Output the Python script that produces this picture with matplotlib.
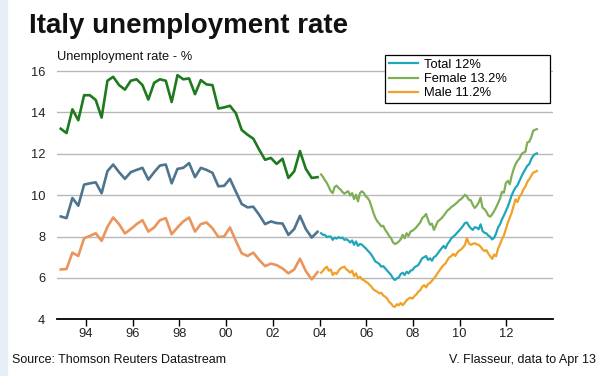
import numpy as np
import pandas as pd
import matplotlib
matplotlib.use("Agg")
from matplotlib import pyplot as plt
import matplotlib.dates as mdates
from matplotlib.patches import Rectangle

plt.rcParams['font.family'] = ['Liberation Sans', 'DejaVu Sans']

# old quarterly series (1993 - 2003)
old_dates = pd.date_range('1992-12-01', '2003-12-01', freq='3MS')
old_female = [13.21, 13.0, 14.15, 13.62, 14.83, 14.83, 14.6, 13.75, 15.53, 15.72,
              15.32, 15.1, 15.53, 15.6, 15.32, 14.62, 15.43, 15.6, 15.53, 14.5,
              15.8, 15.6, 15.64, 14.88, 15.56, 15.35, 15.32, 14.19, 14.24, 14.32,
              13.96, 13.15, 12.92, 12.73, 12.2, 11.71, 11.8, 11.51, 11.76, 10.83,
              11.15, 12.13, 11.27, 10.83, 10.87]
old_total = [8.97, 8.89, 9.86, 9.49, 10.51, 10.57, 10.62, 10.09, 11.16, 11.48,
             11.11, 10.79, 11.11, 11.22, 11.32, 10.75, 11.11, 11.43, 11.48, 10.57,
             11.27, 11.32, 11.55, 10.87, 11.32, 11.22, 11.08, 10.43, 10.45, 10.79,
             10.17, 9.57, 9.41, 9.44, 9.05, 8.6, 8.73, 8.65, 8.63, 8.08,
             8.36, 9.0, 8.36, 7.95, 8.23]
old_male = [6.41, 6.43, 7.22, 7.06, 7.92, 8.03, 8.16, 7.79, 8.47, 8.92,
            8.6, 8.15, 8.36, 8.6, 8.79, 8.24, 8.44, 8.79, 8.89, 8.11,
            8.44, 8.73, 8.92, 8.24, 8.6, 8.68, 8.4, 7.98, 8.0, 8.44,
            7.79, 7.19, 7.06, 7.22, 6.87, 6.57, 6.69, 6.62, 6.46, 6.22,
            6.41, 6.93, 6.33, 5.93, 6.28]

# new monthly series (Jan 2004 - Apr 2013)
new_dates = pd.date_range('2004-01-01', '2013-04-01', freq='MS') + pd.Timedelta(days=24)
new_female = [11.0, 10.88, 10.72, 10.59, 10.4, 10.19, 10.1, 10.4, 10.46, 10.35,
              10.27, 10.15, 10.07, 10.14, 10.19, 9.98, 10.1, 9.81, 10.02, 9.7,
              10.1, 10.19, 10.1, 9.94, 9.86, 9.7, 9.43, 9.13, 8.89, 8.73,
              8.62, 8.49, 8.52, 8.32, 8.19, 8.03, 7.92, 7.71, 7.64, 7.68,
              7.76, 7.87, 8.08, 7.92, 8.16, 8.03, 8.24, 8.28, 8.36, 8.45,
              8.57, 8.68, 8.89, 8.97, 9.09, 8.81, 8.57, 8.62, 8.32, 8.52,
              8.73, 8.81, 8.89, 9.0, 9.13, 9.26, 9.33, 9.43, 9.49, 9.57,
              9.65, 9.75, 9.81, 9.91, 10.02, 9.94, 9.78, 9.75, 9.54, 9.38,
              9.48, 9.64, 9.88, 9.4, 9.32, 9.19, 9.02, 8.96, 9.07, 9.23,
              9.4, 9.61, 9.83, 10.16, 10.12, 10.58, 10.69, 10.53, 10.93, 11.25,
              11.5, 11.66, 11.77, 11.98, 12.06, 12.09, 12.55, 12.58, 12.79, 13.11,
              13.16, 13.19]
new_total = [8.16, 8.08, 8.08, 7.97, 8.0, 8.0, 7.84, 7.95, 7.9, 7.97,
             7.92, 7.95, 7.84, 7.87, 7.81, 7.71, 7.81, 7.6, 7.76, 7.55,
             7.64, 7.61, 7.51, 7.43, 7.32, 7.22, 7.11, 6.95, 6.79, 6.74,
             6.67, 6.54, 6.57, 6.46, 6.35, 6.25, 6.14, 5.98, 5.9, 5.98,
             6.02, 6.19, 6.25, 6.14, 6.3, 6.22, 6.35, 6.38, 6.51, 6.57,
             6.62, 6.79, 6.95, 7.0, 7.06, 6.87, 6.95, 6.83, 7.0, 7.06,
             7.19, 7.32, 7.43, 7.55, 7.43, 7.64, 7.76, 7.92, 8.0, 8.08,
             8.19, 8.29, 8.4, 8.52, 8.65, 8.68, 8.52, 8.4, 8.32, 8.45,
             8.43, 8.35, 8.59, 8.27, 8.18, 8.15, 8.05, 7.99, 7.86, 7.94,
             8.15, 8.43, 8.59, 8.83, 9.02, 9.23, 9.44, 9.72, 9.99, 10.2,
             10.37, 10.48, 10.69, 10.9, 11.09, 11.25, 11.42, 11.5, 11.74, 11.9,
             11.98, 12.02]
new_male = [6.25, 6.35, 6.46, 6.54, 6.35, 6.41, 6.14, 6.25, 6.19, 6.35,
            6.46, 6.51, 6.54, 6.41, 6.35, 6.25, 6.35, 6.09, 6.22, 5.98,
            6.06, 5.93, 5.89, 5.81, 5.76, 5.65, 5.57, 5.44, 5.38, 5.33,
            5.25, 5.28, 5.15, 5.09, 5.0, 4.84, 4.76, 4.63, 4.6, 4.73,
            4.68, 4.79, 4.68, 4.79, 4.92, 5.0, 5.05, 5.0, 5.12, 5.21,
            5.33, 5.41, 5.57, 5.65, 5.54, 5.7, 5.76, 5.86, 5.98, 6.09,
            6.25, 6.38, 6.51, 6.62, 6.7, 6.87, 7.0, 7.06, 7.16, 7.06,
            7.22, 7.32, 7.38, 7.48, 7.6, 7.92, 7.68, 7.6, 7.64, 7.68,
            7.62, 7.6, 7.51, 7.38, 7.3, 7.34, 7.18, 7.05, 6.92, 7.13,
            7.05, 7.41, 7.62, 7.86, 8.05, 8.35, 8.67, 8.91, 9.15, 9.48,
            9.8, 9.67, 9.93, 10.04, 10.28, 10.41, 10.64, 10.77, 10.93, 11.09,
            11.12, 11.17]

labels = ['Total 12%', 'Female 13.2%', 'Male 11.2%']
years = [1994, 1996, 1998, 2000, 2002, 2004, 2006, 2008, 2010, 2012]

fig = plt.figure(figsize=(6.01, 3.76), dpi=100)
fig.patches.append(Rectangle((0, 0), 7 / 601, 1, transform=fig.transFigure,
                             color='#e8eef7', zorder=0))
ax = fig.add_axes([57 / 601, 1 - 319.3 / 376, 496 / 601, 254.5 / 376])

ax.plot(old_dates, old_female, color='#1f7a1f', lw=1.9)
ax.plot(old_dates, old_total, color='#4d7590', lw=1.9)
ax.plot(old_dates, old_male, color='#e9955c', lw=1.9)
lt, = ax.plot(new_dates, new_total, color='#1fa6b8', lw=1.6)
lf, = ax.plot(new_dates, new_female, color='#7fae58', lw=1.6)
lm, = ax.plot(new_dates, new_male, color='#f0a128', lw=1.6)

ax.set_ylim(4, 16.3)
ax.set_yticks([4, 6, 8, 10, 12, 14, 16])
ax.set_xlim(pd.Timestamp('1992-10-03'), pd.Timestamp('2014-01-01'))
ax.set_xticks([pd.Timestamp(str(y) + '-01-01') for y in years])
ax.xaxis.set_major_formatter(mdates.DateFormatter('%y'))

ax.grid(axis='y', color='#b8b8b8', lw=1.0)
ax.set_axisbelow(True)
for s in ['top', 'right', 'left']:
    ax.spines[s].set_visible(False)
ax.spines['bottom'].set_linewidth(1.3)
ax.tick_params(axis='y', length=0, pad=8.5, labelsize=9.3, colors='#222222')
ax.tick_params(axis='x', length=5, width=1, pad=1.5, labelsize=9.3, colors='#222222')
ax.tick_params(axis='x', color='black')
# hide gridline at 4
ax.get_ygridlines()[0].set_visible(False)

leg = fig.legend([lt, lf, lm], labels, loc='upper left',
                 bbox_to_anchor=(385 / 601, 1 - 103 / 376, 165 / 601, 48 / 376),
                 mode='expand', borderaxespad=0, fontsize=9.3, handlelength=2.25,
                 handletextpad=0.5, labelspacing=0.16, borderpad=0.3,
                 fancybox=False, framealpha=1)
leg.get_frame().set_edgecolor('black')
leg.get_frame().set_linewidth(0.9)

fig.text(29 / 601, 1 - 33 / 376, 'Italy unemployment rate', fontsize=20,
         fontweight='bold', va='baseline', color='#111111')
fig.text(57 / 601, 1 - 57 / 376, 'Unemployment rate - %', fontsize=9.3,
         va='center', color='#111111')
fig.text(12 / 601, 1 - 360 / 376, 'Source: Thomson Reuters Datastream',
         fontsize=9, va='center', color='#111111')
fig.text(596 / 601, 1 - 360 / 376, 'V. Flasseur, data to Apr 13',
         fontsize=9, va='center', ha='right', color='#111111')

fig.savefig('out.png', dpi=100)
